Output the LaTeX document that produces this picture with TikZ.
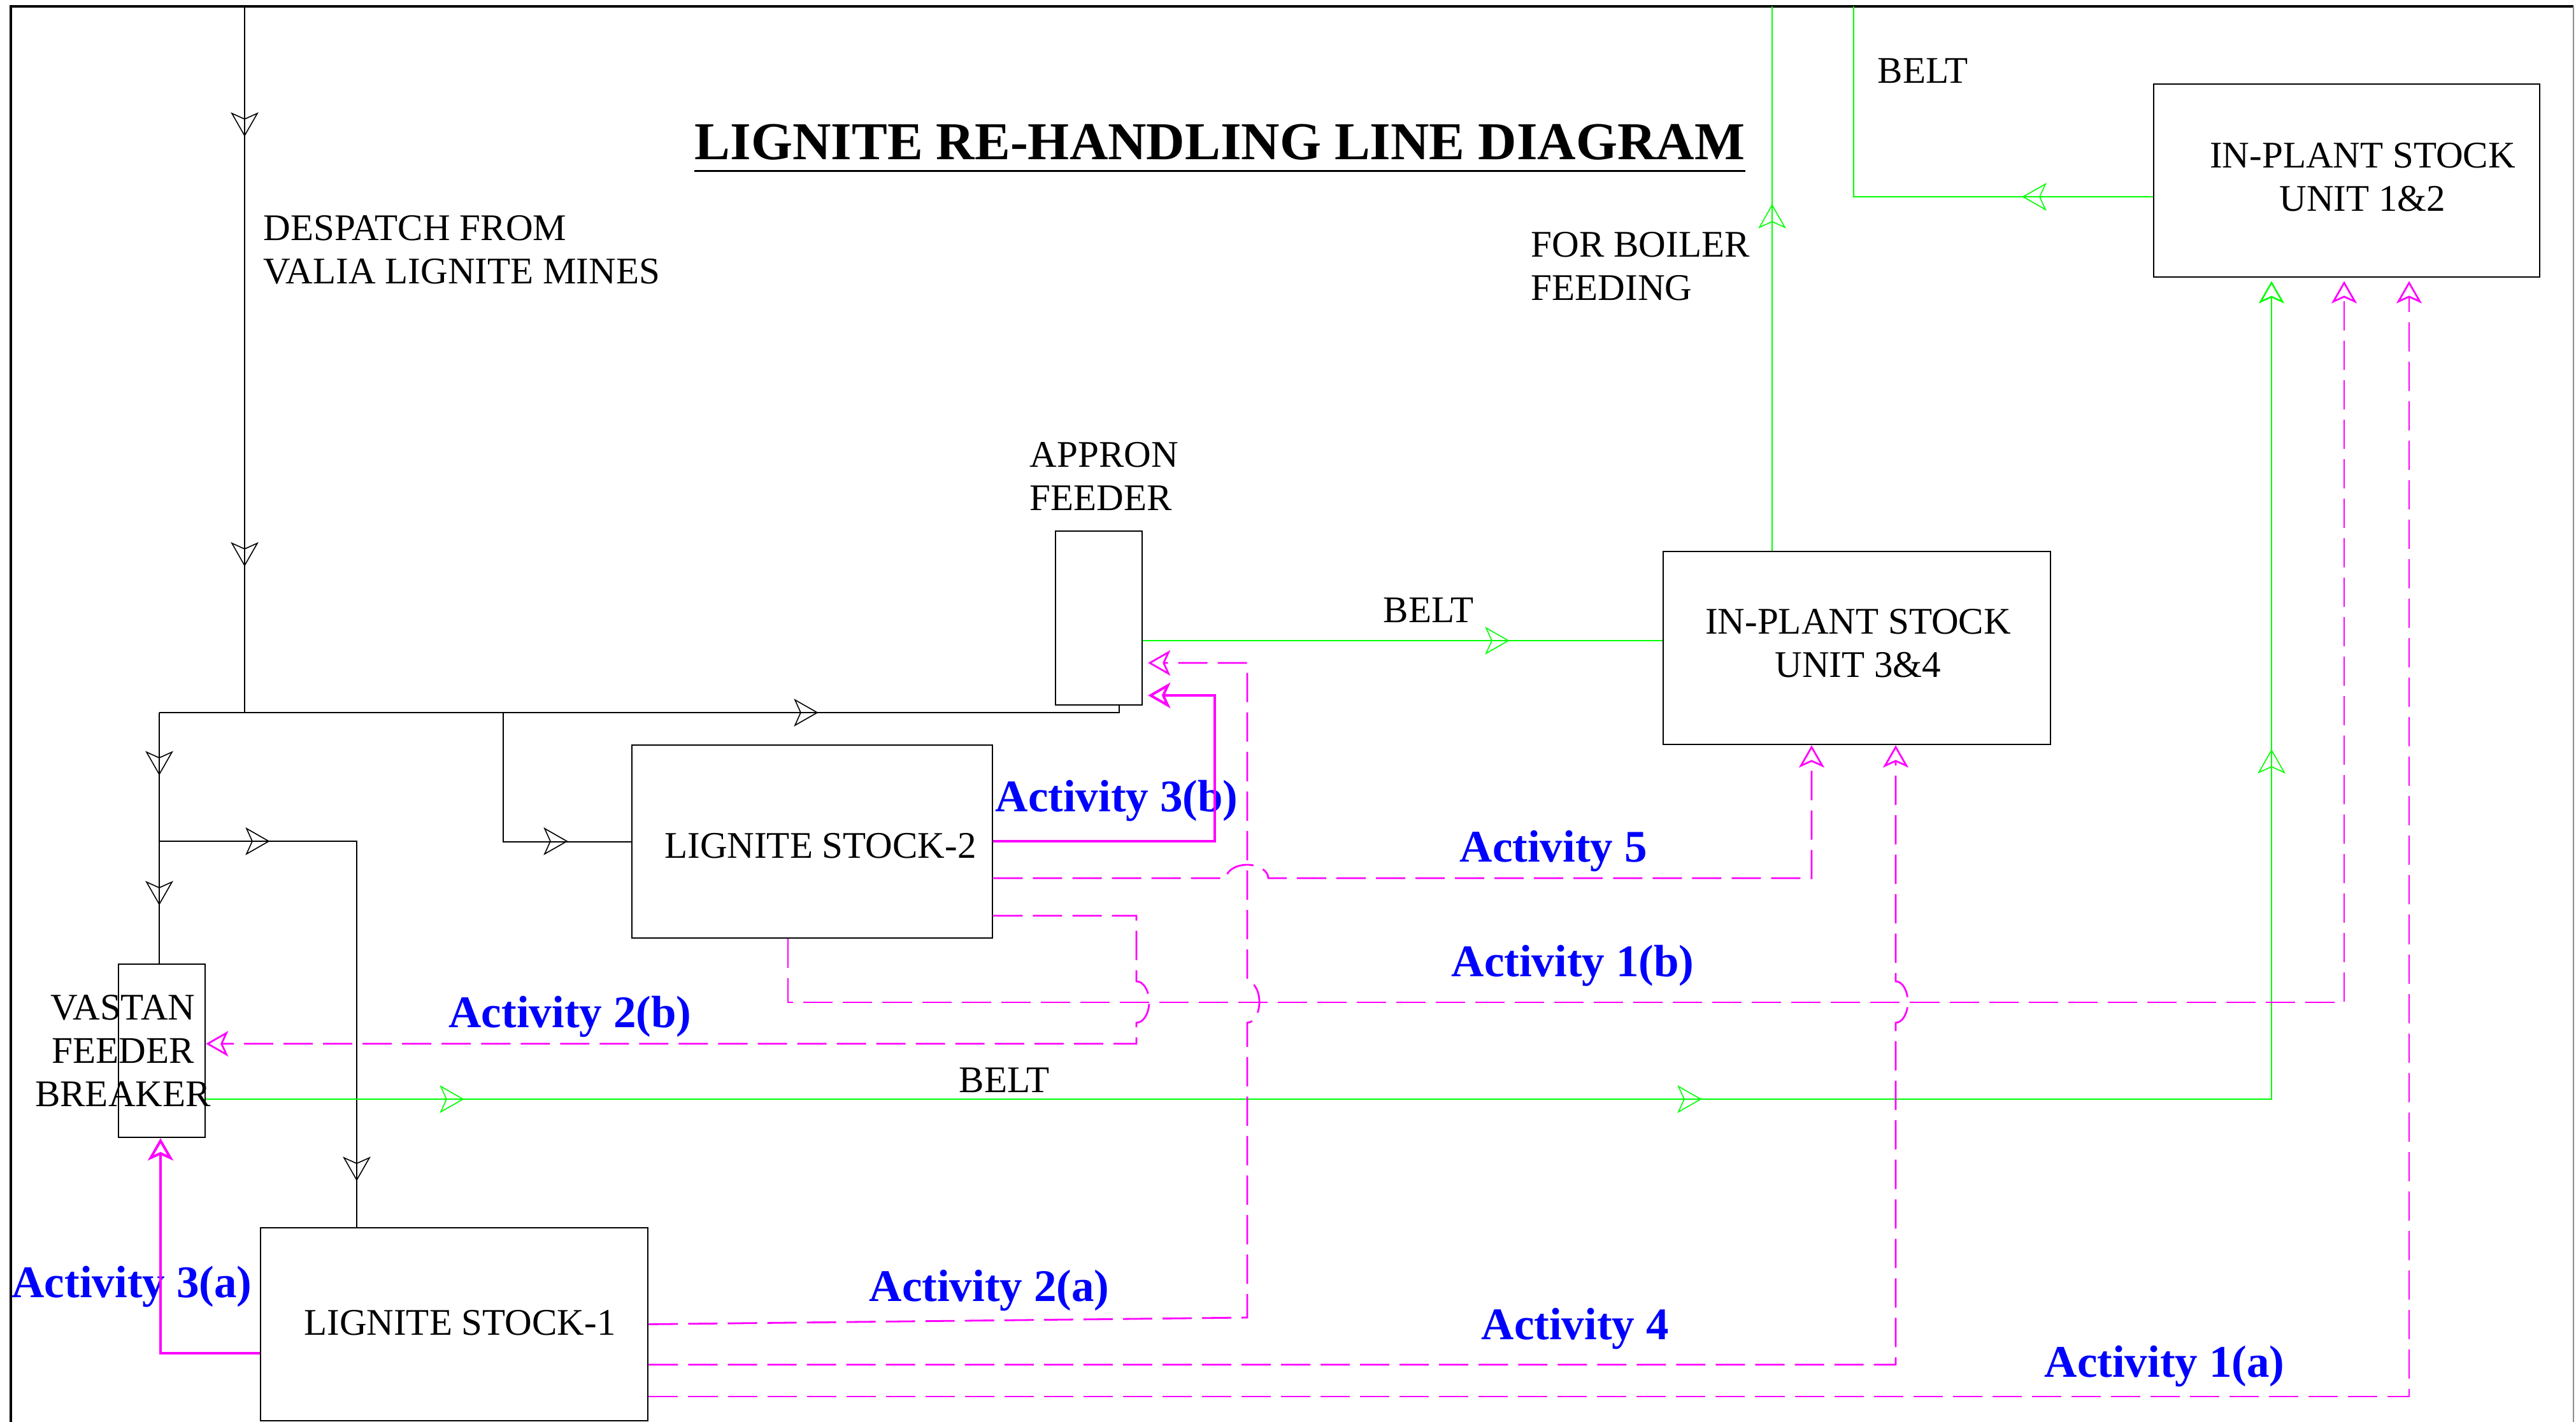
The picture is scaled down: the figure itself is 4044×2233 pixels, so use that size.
\documentclass[tikz,border=0pt]{standalone}
\usepackage{fontspec}
\setmainfont{Liberation Serif}
\usetikzlibrary{arrows.meta}
\definecolor{mgn}{RGB}{255,0,255}
\definecolor{grn}{RGB}{0,255,0}
\definecolor{blu}{RGB}{0,0,255}
\tikzset{
  marr/.pic={\draw[pic actions,solid] (0,0) -- (-35,20) -- (-26,0) -- (-35,-20) -- cycle;},
  tipo/.tip={Stealth[open,length=0.35cm,width=0.40cm,inset=0.09cm]},
}
\begin{document}
\begin{tikzpicture}[x=0.01cm,y=0.01cm,
  box/.style={draw=black,line width=0.025cm,inner sep=0pt},
  lbl/.style={inner sep=0pt,font=\fontsize{16.8pt}{19.35pt}\selectfont},
  act/.style={inner sep=0pt,text=blu,font=\fontsize{20.2pt}{24pt}\selectfont\bfseries},
  blk/.style={draw=black,line width=0.02cm},
  gl/.style={draw=grn,line width=0.025cm},
  mdash/.style={draw=mgn,line width=0.028cm,dash pattern=on 0.46cm off 0.16cm},
  mthick/.style={draw=mgn,line width=0.04cm},
  barb/.style={line width=0.016cm},
]
\fill[white] (0,0) rectangle (4044,-2233);
\useasboundingbox (0,0) rectangle (4044,-2233);
% frame
\draw[black,line width=0.03cm] (17,-2233) -- (17,-10) -- (4040,-10);
\draw[black!45,line width=0.02cm] (4040,-10) -- (4040,-2233);

% boxes
\node[box,minimum width=6.06cm,minimum height=3.03cm] (u12) at (3684,-283.5) {};
\node[box,minimum width=6.08cm,minimum height=3.03cm] (u34) at (2915,-1017.5) {};
\node[box,minimum width=1.36cm,minimum height=2.73cm] (apron) at (1725,-970.5) {};
\node[box,minimum width=5.66cm,minimum height=3.03cm] (ls2) at (1275,-1321.5) {};
\node[box,minimum width=6.08cm,minimum height=3.03cm] (ls1) at (713,-2079.5) {};
\node[box,minimum width=1.36cm,minimum height=2.72cm] (vastan) at (254,-1650) {};

% texts
\node[inner sep=0pt,anchor=base west,font=\fontsize{23.8pt}{28pt}\selectfont\bfseries] (title) at (1090,-250) {LIGNITE RE-HANDLING LINE DIAGRAM};
\draw[line width=0.03cm] ([yshift=-0.18cm]title.base west) -- ([yshift=-0.18cm]title.base east);
\node[lbl,anchor=north west,align=left] (desp) at (413,-338) {DESPATCH FROM\\VALIA LIGNITE MINES};
\node[lbl,anchor=north west,align=left] (apl) at (1616,-694) {APPRON\\FEEDER};
\node[lbl,anchor=base west] (belt1) at (2171,-977) {BELT};
\node[lbl,anchor=north west,align=left] (boil) at (2403,-364) {FOR BOILER\\FEEDING};
\node[lbl,anchor=base west] (belt2) at (2947,-130) {BELT};
\node[lbl,anchor=north,align=center] (u12t) at (3709,-224) {IN-PLANT STOCK\\UNIT 1\&2};
\node[lbl,anchor=north,align=center] (u34t) at (2917,-956) {IN-PLANT STOCK\\UNIT 3\&4};
\node[lbl,anchor=base] (ls2t) at (1288,-1347) {LIGNITE STOCK-2};
\node[lbl,anchor=base] (ls1t) at (722,-2096) {LIGNITE STOCK-1};
\node[lbl,anchor=north,align=center] (vt) at (193,-1562) {VASTAN\\FEEDER\\BREAKER};
\node[lbl,anchor=base west] (belt3) at (1505,-1715) {BELT};

\node[act,anchor=base west] (a3b) at (1562,-1274) {Activity 3(b)};
\node[act,anchor=base west] (a5) at (2291,-1353) {Activity 5};
\node[act,anchor=base west] (a1b) at (2278,-1533) {Activity 1(b)};
\node[act,anchor=base west] (a2b) at (704,-1613) {Activity 2(b)};
\node[act,anchor=base west] (a3a) at (18,-2037) {Activity 3(a)};
\node[act,anchor=base west] (a2a) at (1364,-2043) {Activity 2(a)};
\node[act,anchor=base west] (a4) at (2325,-2103) {Activity 4};
\node[act,anchor=base west] (a1a) at (3209,-2162) {Activity 1(a)};

% black lines
\coordinate (dtop) at (384,-10);
\coordinate (dj) at (384,-1119);
\coordinate (j1) at (250,-1119);
\coordinate (j2) at (250,-1321);
\coordinate (k1) at (560,-1321);
\coordinate (j3) at (790,-1119);
\coordinate (ja) at (1757,-1119);
\draw[blk] (dtop) -- (dj);
\draw[blk] (j1) -- (ja) -- (apron.south -| ja);
\draw[blk] (j1) -- (vastan.north -| j1);
\draw[blk] (j2) -- (k1) -- (ls1.north -| k1);
\draw[blk] (j3) -- (j3 |- ls2.west) -- (ls2.west);
\foreach \p/\r in {{384,-213}/-90,{384,-888}/-90,{1283,-1119}/0,{250,-1216}/-90,{250,-1420}/-90,{422,-1321}/0,{560,-1853}/-90,{890,-1321}/0}
  \pic[draw=black,barb,rotate=\r] at (\p) {marr};

% green belts
\coordinate (gb) at (2000,-1006);
\draw[gl] (apron.east |- gb) -- (u34.west |- gb);
\coordinate (gt) at (2782,-10);
\draw[gl] (u34.north -| gt) -- (gt);
\coordinate (g2) at (2910,-309);
\coordinate (g3) at (2910,-10);
\draw[gl] (u12.west |- g2) -- (g2) -- (g3);
\coordinate (gc) at (3566,-1726);
\draw[gl,-tipo,shorten >=0.05cm] (vastan.east |- gc) -- (gc) -- (u12.south -| gc);
\foreach \p/\r in {{2368,-1006}/0,{2782,-322}/90,{3176,-309}/180,{727,-1726}/0,{2670,-1726}/0,{3566,-1178}/90}
  \pic[draw=grn,barb,rotate=\r] at (\p) {marr};

% activity 3 (solid thick)
\coordinate (m3b) at (1907,-1321);
\coordinate (m3c) at (1907,-1092);
\draw[mthick,-tipo,shorten >=0.08cm] (ls2.east |- m3b) -- (m3b) -- (m3c) -- (apron.east |- m3c);
\coordinate (m3a) at (252,-2125);
\draw[mthick,-tipo] (ls1.west |- m3a) -- (m3a) -- (vastan.south -| m3a);

% dashed activities
\coordinate (m2a) at (1958,-2069);
\coordinate (m2top) at (1958,-1041);
\draw[mdash,-tipo,shorten >=0.08cm] (ls1.east) -- (m2a) -- (1958,-1606)
  arc[start angle=-90,end angle=90,x radius=19,y radius=32.5] -- (m2top) -- (apron.east |- m2top);
\coordinate (m4) at (2976,-2143);
\draw[mdash,-tipo] (ls1.east |- m4) -- (m4) -- (2976,-1606)
  arc[start angle=-90,end angle=90,x radius=19,y radius=32.5] -- (u34.south -| m4);
\coordinate (m1a) at (3782,-2193);
\draw[mdash,-tipo,shorten >=0.05cm] (ls1.east |- m1a) -- (m1a) -- (u12.south -| m1a);
\coordinate (m5) at (2844,-1379);
\draw[mdash,-tipo] (ls2.east |- m5) -- (1925,-1379)
  arc[start angle=180,end angle=0,x radius=33,y radius=21] -- (m5) -- (u34.south -| m5);
\coordinate (m2b1) at (1784,-1438);
\coordinate (m2b2) at (1784,-1639);
\draw[mdash,-tipo] (ls2.east |- m2b1) -- (m2b1) -- (1784,-1541)
  arc[start angle=90,end angle=-90,x radius=20,y radius=32.5] -- (m2b2) -- (vastan.east |- m2b2);
\coordinate (m1b1) at (1237,-1574);
\coordinate (m1b2) at (3680,-1574);
\draw[mdash,-tipo,shorten >=0.05cm] (ls2.south -| m1b1) -- (m1b1) -- (m1b2) -- (u12.south -| m1b2);
\end{tikzpicture}
\end{document}
